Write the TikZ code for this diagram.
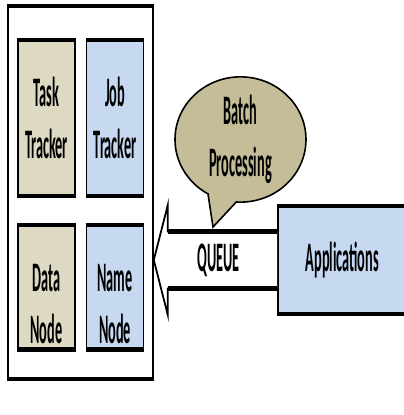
\documentclass[tikz,border=0pt]{standalone}
\usepackage{fontspec}
\newfontfamily\narrowfont[FakeStretch=0.34]{Carlito}
\usetikzlibrary{positioning,calc,shapes.callouts}
\definecolor{tanlight}{HTML}{DDD9C3}
\definecolor{tandark}{HTML}{C4BD97}
\definecolor{paleblue}{HTML}{C6D9F1}

\begin{document}
\begin{tikzpicture}[x=1pt, y=1pt, node distance=10pt,
  every node/.style={font=\narrowfont\bfseries\fontsize{42}{52}\selectfont, align=center},
  cell/.style={draw, line width=1.6pt, minimum width=57pt, inner sep=0pt},
  bubble/.style={ellipse callout, draw, line width=1.6pt, fill=tandark, minimum width=131pt, minimum height=115pt, callout pointer arc=26, inner sep=0pt},
  rim/.style={line width=4.5pt}]
\useasboundingbox (0,0) rectangle (404,415);
% cluster box with the four daemons
\node (rack) [cell, fill=white, minimum width=145pt, minimum height=371pt] at (80.5,222.5) {};
\node (task) [cell, fill=tanlight, minimum height=154pt, below right=34pt and 10pt of rack.north west] {Task\\Tracker};
\node (job) [cell, fill=paleblue, minimum height=154pt, right=of task] {Job\\Tracker};
\node (data) [cell, fill=tanlight, minimum height=123pt, below=29pt of task, label={[name=datatext, yshift=-17pt]center:Data\\Node}] {};
\node (name) [cell, fill=paleblue, minimum height=123pt, right=of data, label={[name=nametext, yshift=-17pt]center:Name\\Node}] {};
% client side
\node (apps) [cell, fill=paleblue, minimum width=129pt, minimum height=106pt, anchor=west] at (277,155) {Applications};
\node (batch) [bubble, callout absolute pointer={(213,188)}] at (240.5,275.5) {Batch\\Processing};
% queue arrow into the cluster
\coordinate (tip) at (rack.east |- apps.west);
\coordinate (shafttop) at ($(tip)+(14,28.5)$);
\coordinate (shaftbot) at ($(tip)+(14,-28.5)$);
\filldraw[fill=white, line width=1.8pt] (shafttop -| apps.west) -- (shafttop) -- ($(shafttop)+(0,26.5)$) -- (tip) -- ($(shaftbot)+(0,-26.5)$) -- (shaftbot) -- (shaftbot -| apps.west);
\draw[rim] (shafttop) -- (shafttop -| apps.west) (shaftbot) -- (shaftbot -| apps.west);
\node (queue) [xshift=3pt] at ($(tip)!0.5!(apps.west)$) {QUEUE};
% heavier top and bottom edges
\foreach \n in {rack,task,job,data,name,apps}
  \draw[rim] (\n.north west) -- (\n.north east) (\n.south west) -- (\n.south east);
\end{tikzpicture}
\end{document}
